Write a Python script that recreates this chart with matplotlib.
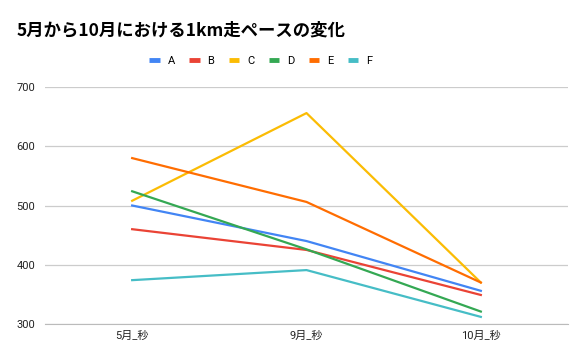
import matplotlib.pyplot as plt

plt.rcParams['font.family'] = ['Roboto', 'Noto Sans CJK JP', 'DejaVu Sans']

months = ['5月_秒', '9月_秒', '10月_秒']
names = ['A', 'B', 'C', 'D', 'E', 'F']
a = [500, 440, 356]
b = [460, 425, 349]
c = [508, 656, 370]
d = [524, 426, 321]
e = [580, 506, 370]
f = [374, 391, 312]
series = [a, b, c, d, e, f]
colors = ['#4285F4', '#EA4335', '#FBBC04', '#34A853', '#FF6D01', '#46BDC6']

fig = plt.figure(figsize=(5.86, 3.62), dpi=100)
ax = fig.add_axes([45/586, 1 - 324/362, 523/586, 237/362])

x = range(len(months))
for vals, name, col in zip(series, names, colors):
    ax.plot(x, vals, color=col, lw=1.6, label=name)

ax.set_xlim(-0.5, 2.5)
ax.set_ylim(300, 700)
ax.set_yticks([300, 400, 500, 600, 700])
ax.set_xticks(list(x))
ax.set_xticklabels(months)
ax.grid(axis='y', color='#cccccc', lw=0.9)
ax.set_axisbelow(True)
for s in ['top', 'right', 'left']:
    ax.spines[s].set_visible(False)
ax.spines['bottom'].set_color('#bbbbbb')
ax.tick_params(axis='both', length=0, labelsize=8, colors='#222222')
ax.tick_params(axis='y', pad=7)
ax.tick_params(axis='x', pad=5)

fig.text(17/586, 1 - 30/362, '5月から10月における1km走ペースの変化', fontsize=12.5,
         fontweight='bold', va='center', ha='left', family=['Noto Sans CJK JP'])

leg = fig.legend(loc='center', bbox_to_anchor=(0.445, 1 - 61/362), ncol=6, frameon=False,
                 fontsize=8, handlelength=0.95, handletextpad=0.7, columnspacing=1.3)
for h in leg.get_lines():
    h.set_linewidth(3.5)
    h.set_solid_capstyle('butt')

fig.savefig('out.png', dpi=100)
